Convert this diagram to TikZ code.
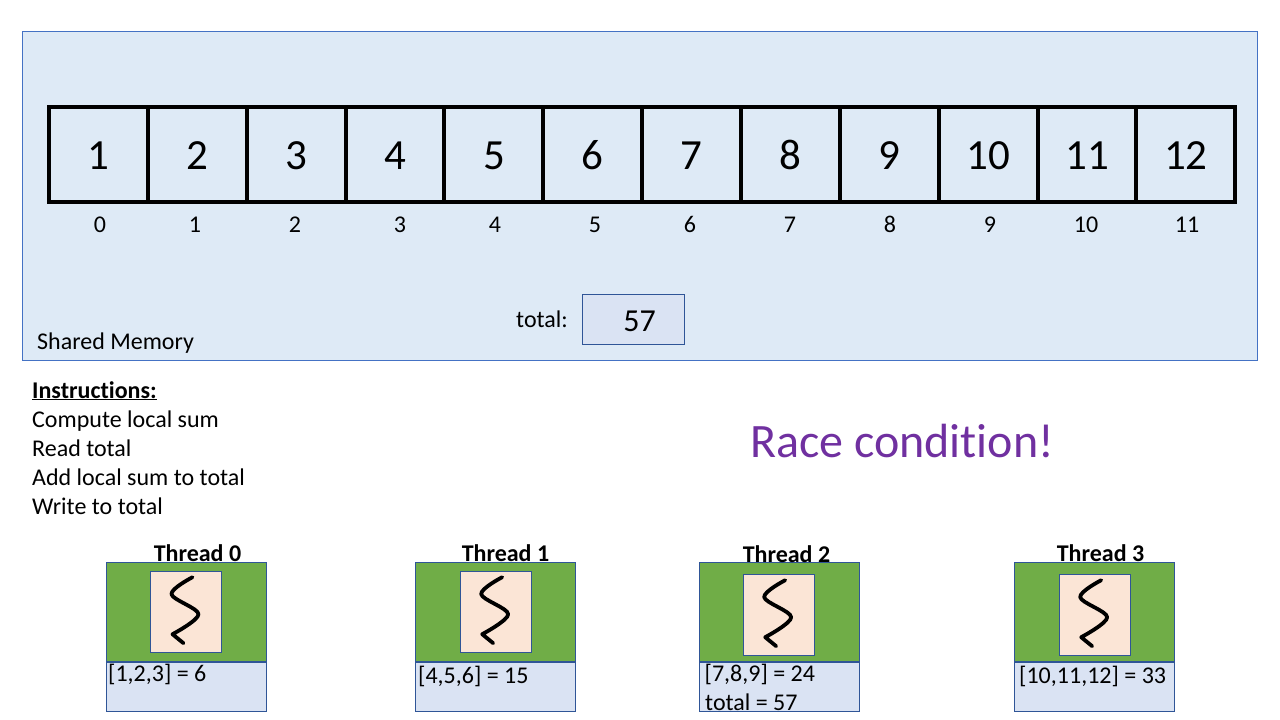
\documentclass[tikz,border=0pt]{standalone}
\usepackage{fontspec}
\setmainfont[Ligatures=NoCommon]{Carlito}
\usetikzlibrary{positioning}

\definecolor{memfill}{HTML}{DEEAF6}
\definecolor{memline}{HTML}{4472C4}
\definecolor{boxfill}{HTML}{DAE3F3}
\definecolor{boxline}{HTML}{2F5597}
\definecolor{greenfill}{HTML}{70AD47}
\definecolor{corefill}{HTML}{FBE5D6}
\definecolor{racetext}{HTML}{7030A0}

\tikzset{
  cell/.style={draw=black,line width=4pt,minimum width=98.85pt,minimum height=95pt,
    inner sep=0pt,text height=29.5pt,text depth=0pt,font=\fontsize{43}{50}\selectfont},
  idx/.style={inner sep=0pt,anchor=base,font=\fontsize{24}{28}\selectfont},
  txt/.style={inner sep=0pt,anchor=base west,font=\fontsize{24}{28}\selectfont},
  threadname/.style={inner sep=0pt,anchor=base,font=\fontsize{24}{28}\selectfont\bfseries},
  threadbox/.style={draw=boxline,fill=greenfill,line width=1pt,minimum width=160pt,minimum height=99pt,inner sep=0pt},
  databox/.style={draw=boxline,fill=boxfill,line width=1pt,minimum width=160pt,minimum height=49pt,inner sep=0pt},
  corebox/.style={draw=boxline,fill=corefill,line width=1pt,minimum width=71pt,minimum height=81pt,inner sep=0pt},
  pics/squiggle/.style={code={
    \draw[line width=3.8pt,line cap=round,line join=round]
      plot[smooth,tension=.55] coordinates {(6.5,-34.5) (-14.5,-17.5) (12.5,2.5) (-13.5,22.5)}
      -- (-2.5,31.5);
  }}
}

\begin{document}
\begin{tikzpicture}[x=1pt,y=-1pt,node distance=98.85pt]
  \useasboundingbox (0,0) rectangle (1280,720);

  \node[draw=memline,fill=memfill,line width=1pt,minimum width=1235pt,minimum height=329pt,inner sep=0pt] (mem) at (640,196) {};

  \node[cell] (c1) at (98.5,154.5) {1};
  \node[cell] (c2) [right of=c1] {2};
  \node[cell] (c3) [right of=c2] {3};
  \node[cell] (c4) [right of=c3] {4};
  \node[cell] (c5) [right of=c4] {5};
  \node[cell] (c6) [right of=c5] {6};
  \node[cell] (c7) [right of=c6] {7};
  \node[cell] (c8) [right of=c7] {8};
  \node[cell] (c9) [right of=c8] {9};
  \node[cell] (c10) [right of=c9] {10};
  \node[cell] (c11) [right of=c10] {11};
  \node[cell] (c12) [right of=c11] {12};

  \foreach \x/\n in {100/0,195/1,295/2,400/3,495/4,595/5,690/6,790/7,890/8,990/9,1086/10,1187/11}
    \node[idx] (i\n) at (\x,232.5) {\n};

  \node[txt] (memlabel) at (37,349) {Shared Memory};
  \node[txt] (totallabel) at (516,327) {total:};
  \node[draw=boxline,fill=boxfill,line width=1pt,minimum width=102pt,minimum height=50pt,inner sep=0pt,
    text height=24.5pt,text depth=0pt,font=\fontsize{32}{38}\selectfont] (total) at (633.5,319.5) {\hspace{12pt}57};

  \node[txt] (ins0) at (32,398) {\textbf{\underline{Instructions:}}};
  \node[txt] (ins1) at (32,427) {Compute local sum};
  \node[txt] (ins2) at (32,456) {Read total};
  \node[txt] (ins3) at (32,485) {Add local sum to total};
  \node[txt] (ins4) at (32,514) {Write to total};

  \node[inner sep=0pt,anchor=base,text=racetext,font=\fontsize{48}{56}\selectfont] (race) at (902,457) {Race condition!};

  % threads
  \node[threadbox] (t0) at (186.5,611.8) {};
  \node[databox,below=0pt of t0] (d0) {};
  \node[corebox] (core0) at (186,611.7) {};
  \pic at (core0) {squiggle};
  \node[threadname] (n0) at (197.5,561) {Thread 0};
  \node[txt] (s0) at (108,681) {[1,2,3] = 6};

  \node[threadbox] (t1) at (495,611.8) {};
  \node[databox,below=0pt of t1] (d1) {};
  \node[corebox] (core1) at (495.7,611.7) {};
  \pic at (core1) {squiggle};
  \node[threadname] (n1) at (505.5,561) {Thread 1};
  \node[txt] (s1) at (418,683) {[4,5,6] = 15};

  \node[threadbox] (t2) at (779,611.8) {};
  \node[databox,below=0pt of t2] (d2) {};
  \node[corebox] (core2) at (778.7,614.7) {};
  \pic at (core2) {squiggle};
  \node[threadname] (n2) at (786.5,562) {Thread 2};
  \node[txt] (s2) at (704.5,681) {[7,8,9] = 24};
  \node[txt] (s2b) at (705,710) {total = 57};

  \node[threadbox] (t3) at (1094,611.8) {};
  \node[databox,below=0pt of t3] (d3) {};
  \node[corebox] (core3) at (1094.7,614.7) {};
  \pic at (core3) {squiggle};
  \node[threadname] (n3) at (1100.5,561) {Thread 3};
  \node[txt] (s3) at (1019,683) {[10,11,12] = 33};
\end{tikzpicture}
\end{document}
